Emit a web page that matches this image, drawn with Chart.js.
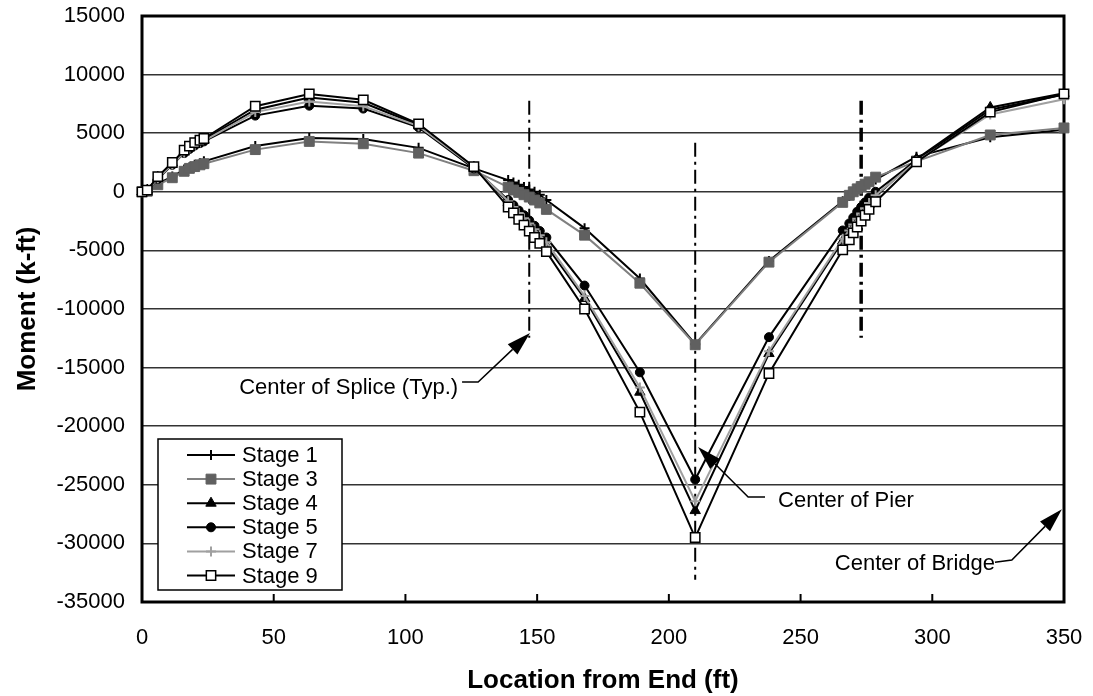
<!DOCTYPE html>
<html><head><meta charset="utf-8">
<script src="https://cdn.jsdelivr.net/npm/chart.js@4.4.0/dist/chart.umd.min.js"></script>
<style>html,body{margin:0;padding:0;background:#fff}canvas{display:block}</style>
</head><body>
<canvas id="c" width="1093" height="696"></canvas>
<script>
// ---- data ----
const locations = [0, 2, 6, 11.5, 16, 18, 20, 22, 23.5, 43, 63.5, 84, 105, 126,
  139, 141, 143, 145, 147, 149, 151, 153.5, 168, 189, 210, 238, 266,
  268.5, 270, 271.5, 273, 274.5, 276, 278.5, 294, 322, 350];
const stage1 = [0, 100, 700, 1300, 1900, 2100, 2300, 2450, 2600, 3900, 4600, 4500, 3750, 2000,
  1000, 800, 600, 400, 200, 0, -250, -700, -3100, -7400, -13000, -5900, -800,
  -350, -50, 200, 400, 600, 800, 1050, 3000, 4650, 5300];
const stage3 = [0, 50, 600, 1200, 1750, 2000, 2150, 2300, 2400, 3600, 4300, 4100, 3300, 1800,
  400, 150, -50, -250, -450, -700, -950, -1500, -3700, -7800, -13050, -6000, -900,
  -300, 0, 250, 450, 650, 850, 1250, 2600, 4850, 5450];
const stage4 = [0, 150, 1250, 2450, 3450, 3800, 4100, 4300, 4450, 7000, 8050, 7600, 5700, 2100,
  -900, -1450, -2000, -2500, -3000, -3500, -4000, -4600, -9100, -17100, -27200, -13800, -4200,
  -3500, -3000, -2500, -2000, -1550, -1100, -400, 2800, 7200, 8400];
const stage5 = [0, 100, 1100, 2300, 3300, 3650, 3950, 4150, 4300, 6500, 7350, 7100, 5500, 2000,
  -700, -1150, -1600, -2000, -2450, -2900, -3350, -3900, -8000, -15400, -24550, -12400, -3300,
  -2700, -2200, -1700, -1300, -900, -500, 0, 2700, 7000, 8300];
const stage7 = [0, 120, 1150, 2350, 3350, 3700, 4000, 4200, 4350, 6800, 7700, 7300, 5600, 2100,
  -800, -1300, -1800, -2250, -2700, -3200, -3700, -4300, -8900, -16700, -26400, -13600, -4000,
  -3300, -2800, -2300, -1850, -1400, -950, -300, 2600, 6600, 7900];
const stage9 = [0, 150, 1300, 2500, 3550, 3900, 4200, 4400, 4550, 7300, 8350, 7850, 5800, 2150,
  -1300, -1800, -2350, -2850, -3350, -3900, -4400, -5100, -10000, -18800, -29500, -15500, -4950,
  -4100, -3500, -3000, -2500, -2000, -1500, -850, 2550, 6800, 8350];
const seriesNames = ['Stage 1', 'Stage 3', 'Stage 4', 'Stage 5', 'Stage 7', 'Stage 9'];
const xTickValues = [0, 50, 100, 150, 200, 250, 300, 350];
const yTickValues = [15000, 10000, 5000, 0, -5000, -10000, -15000, -20000, -25000, -30000, -35000];
const spliceLocations = [147, 273];
const spliceRange = [7760, -12450];
const pierLocation = [210];
const pierRange = [4180, -33100];
const xTitle = 'Location from End (ft)';
const yTitle = 'Moment (k-ft)';
const labelSplice = 'Center of Splice (Typ.)';
const labelPier = 'Center of Pier';
const labelBridge = 'Center of Bridge';
// annotation anchor points (data units): [tip, elbow, end-of-leader]
const arrowSplice = [[147.3, -12040], [127.6, -16230], [121.5, -16230]];
const arrowPier = [[211.1, -21780], [230.1, -26040], [236.5, -26040]];
const arrowBridge = [[349.2, -27090], [330.2, -31415], [323.8, -31600]];

// ---- styles ----
const FONT = '"Liberation Sans", Arial, sans-serif';
const styles = [
  {line: '#000000', style: 'cross', r: 5, fill: '#000000', stroke: '#000000', bw: 2},
  {line: '#808080', style: 'rect', r: 7, fill: '#606060', stroke: '#606060', bw: 1},
  {line: '#000000', style: 'triangle', r: 6, fill: '#000000', stroke: '#000000', bw: 1},
  {line: '#000000', style: 'circle', r: 4.5, fill: '#000000', stroke: '#000000', bw: 1},
  {line: '#a0a0a0', style: 'cross', r: 5, fill: '#a0a0a0', stroke: '#a0a0a0', bw: 2},
  {line: '#000000', style: 'rect', r: 6.6, fill: '#ffffff', stroke: '#000000', bw: 1.5}
];
const allSeries = [stage1, stage3, stage4, stage5, stage7, stage9];

const datasets = allSeries.map((vals, i) => ({
  label: seriesNames[i],
  data: locations.map((x, j) => ({x: x, y: vals[j]})),
  borderColor: styles[i].line,
  borderWidth: 2,
  pointStyle: styles[i].style,
  pointRadius: styles[i].r,
  pointHoverRadius: styles[i].r,
  pointBackgroundColor: styles[i].fill,
  pointBorderColor: styles[i].stroke,
  pointBorderWidth: styles[i].bw,
  tension: 0,
  fill: false,
  clip: false,
  order: 5 - i
}));

function drawMarker(ctx, st, x, y) {
  ctx.save();
  ctx.fillStyle = st.fill; ctx.strokeStyle = st.stroke; ctx.lineWidth = st.bw;
  ctx.beginPath();
  const r = st.r;
  if (st.style === 'cross') {
    ctx.moveTo(x, y - r); ctx.lineTo(x, y + r); ctx.moveTo(x - r, y); ctx.lineTo(x + r, y);
    ctx.stroke();
  } else if (st.style === 'rect') {
    const s = Math.SQRT1_2 * r;
    ctx.rect(x - s, y - s, 2 * s, 2 * s); ctx.fill(); ctx.stroke();
  } else if (st.style === 'triangle') {
    let a = 0;
    for (let k = 0; k < 3; k++) {
      const px = x + Math.sin(a) * r, py = y - Math.cos(a) * r;
      if (k === 0) ctx.moveTo(px, py); else ctx.lineTo(px, py);
      a += 2 * Math.PI / 3;
    }
    ctx.closePath(); ctx.fill(); ctx.stroke();
  } else {
    ctx.arc(x, y, r, 0, Math.PI * 2); ctx.fill(); ctx.stroke();
  }
  ctx.restore();
}

function arrow(ctx, x, y, pts, text, textSide, textDy, gap) {
  const P = pts.map(p => [x.getPixelForValue(p[0]), y.getPixelForValue(p[1])]);
  ctx.save();
  ctx.strokeStyle = '#000'; ctx.fillStyle = '#000'; ctx.lineWidth = 1.5;
  const [tip, elbow, end] = P;
  const ang = Math.atan2(tip[1] - elbow[1], tip[0] - elbow[0]);
  const L = 24, W = 7;
  const bx = tip[0] - Math.cos(ang) * L, by = tip[1] - Math.sin(ang) * L;
  ctx.beginPath();
  ctx.moveTo(end[0], end[1]); ctx.lineTo(elbow[0], elbow[1]); ctx.lineTo(bx, by);
  ctx.stroke();
  ctx.beginPath();
  ctx.moveTo(tip[0], tip[1]);
  ctx.lineTo(bx + Math.sin(ang) * W, by - Math.cos(ang) * W);
  ctx.lineTo(bx - Math.sin(ang) * W, by + Math.cos(ang) * W);
  ctx.closePath(); ctx.fill();
  ctx.font = '22px ' + FONT;
  ctx.textBaseline = 'middle';
  if (textSide === 'left') {
    ctx.textAlign = 'right';
    ctx.fillText(text, Math.min(end[0], elbow[0]) - gap, end[1] + textDy);
  } else {
    ctx.textAlign = 'left';
    ctx.fillText(text, Math.max(end[0], elbow[0]) + gap, end[1] + textDy);
  }
  ctx.restore();
}

const decor = {
  id: 'decor',
  beforeDatasetsDraw(chart) {
    const {ctx, chartArea: a, scales: {x, y}} = chart;
    ctx.save();
    // inner ticks on the bottom axis
    ctx.strokeStyle = '#000'; ctx.lineWidth = 2;
    xTickValues.forEach(v => {
      const px = x.getPixelForValue(v);
      ctx.beginPath(); ctx.moveTo(px, a.bottom); ctx.lineTo(px, a.bottom - 8); ctx.stroke();
    });
    // dash-dot reference lines
    ctx.setLineDash([14, 5, 3, 5]);
    spliceLocations.forEach((v, i) => {
      ctx.lineWidth = i === 0 ? 2 : 3.5;
      const px = x.getPixelForValue(v);
      ctx.beginPath();
      ctx.moveTo(px, y.getPixelForValue(spliceRange[0]));
      ctx.lineTo(px, y.getPixelForValue(spliceRange[1]));
      ctx.stroke();
    });
    ctx.lineWidth = 2;
    pierLocation.forEach(v => {
      const px = x.getPixelForValue(v);
      ctx.beginPath();
      ctx.moveTo(px, y.getPixelForValue(pierRange[0]));
      ctx.lineTo(px, y.getPixelForValue(pierRange[1]));
      ctx.stroke();
    });
    ctx.setLineDash([]);
    // plot-area border
    ctx.lineWidth = 3;
    ctx.strokeRect(a.left, a.top, a.right - a.left, a.bottom - a.top);
    ctx.restore();
  },
  afterDatasetsDraw(chart) {
    const {ctx, chartArea: a, scales: {x, y}} = chart;
    // axis titles
    ctx.save();
    ctx.fillStyle = '#000';
    ctx.font = 'bold 26px ' + FONT;
    ctx.textAlign = 'center'; ctx.textBaseline = 'middle';
    ctx.fillText(xTitle, (a.left + a.right) / 2, 681);
    ctx.translate(28, (a.top + a.bottom) / 2);
    ctx.rotate(-Math.PI / 2);
    ctx.fillText(yTitle, 0, 0);
    ctx.restore();
    // annotations
    arrow(ctx, x, y, arrowSplice, labelSplice, 'left', 6, 4);
    arrow(ctx, x, y, arrowPier, labelPier, 'right', 4, 13);
    arrow(ctx, x, y, arrowBridge, labelBridge, 'left', 2, 0);
    // legend
    ctx.save();
    const L = {x0: 158, y0: 439, x1: 342, y1: 590, first: 455, step: 24.1};
    ctx.fillStyle = '#fff';
    ctx.fillRect(L.x0, L.y0, L.x1 - L.x0, L.y1 - L.y0);
    ctx.strokeStyle = '#000'; ctx.lineWidth = 1.5;
    ctx.strokeRect(L.x0, L.y0, L.x1 - L.x0, L.y1 - L.y0);
    ctx.font = '22px ' + FONT; ctx.textBaseline = 'middle'; ctx.textAlign = 'left';
    chart.data.datasets.forEach((ds, i) => {
      const yy = L.first + i * L.step;
      ctx.strokeStyle = ds.borderColor; ctx.lineWidth = 2;
      ctx.beginPath(); ctx.moveTo(187, yy); ctx.lineTo(235, yy); ctx.stroke();
      drawMarker(ctx, styles[i], 211, yy);
      ctx.fillStyle = '#000';
      ctx.fillText(ds.label, 242, yy + 1);
    });
    ctx.restore();
  }
};

new Chart(document.getElementById('c'), {
  type: 'line',
  data: {datasets: datasets},
  options: {
    responsive: false,
    animation: false,
    devicePixelRatio: 1,
    layout: {autoPadding: false, padding: {top: 16, right: 29, left: 0, bottom: 0}},
    plugins: {legend: {display: false}, tooltip: {enabled: false}},
    scales: {
      x: {
        type: 'linear', min: 0, max: 350,
        afterBuildTicks: s => { s.ticks = xTickValues.map(v => ({value: v})); },
        afterFit: s => { s.height = 94; s.paddingLeft = 0; s.paddingRight = 0; s.paddingTop = 0; s.paddingBottom = 0; },
        grid: {display: false, drawTicks: false},
        border: {display: false},
        ticks: {color: '#000', font: {family: FONT, size: 22}, padding: 23, maxRotation: 0,
                callback: v => String(v)}
      },
      y: {
        type: 'linear', min: -35000, max: 15000,
        afterBuildTicks: s => { s.ticks = yTickValues.map(v => ({value: v})); },
        afterFit: s => { s.width = 142; s.paddingLeft = 0; s.paddingRight = 0; s.paddingTop = 0; s.paddingBottom = 0; },
        grid: {color: '#333333', lineWidth: 1.5, drawTicks: false},
        border: {display: false},
        ticks: {color: '#000', font: {family: FONT, size: 22}, padding: 17,
                callback: v => String(v)}
      }
    }
  },
  plugins: [decor]
});
</script>
</body></html>
